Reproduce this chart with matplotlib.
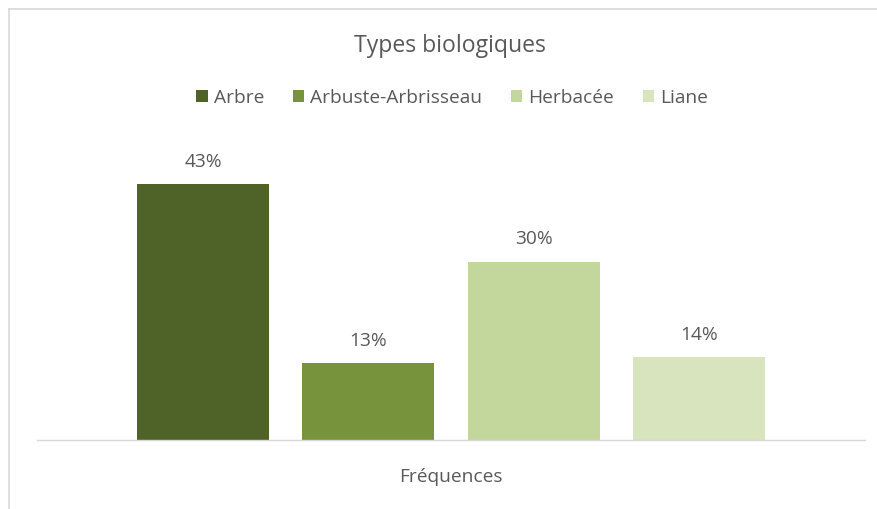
import matplotlib.pyplot as plt
from matplotlib.patches import Patch
from matplotlib.lines import Line2D

# chart data
series = ['Arbre', 'Arbuste-Arbrisseau', 'Herbacée', 'Liane']
values = [43, 13, 30, 14]
colors = ['#4F6228', '#77933C', '#C3D69B', '#D7E4BD']
title = 'Types biologiques'
category = 'Fréquences'

W, H = 877, 509
plt.rcParams['font.family'] = ['Open Sans', 'DejaVu Sans']
text_col = '#595959'
fs = 13.8

fig = plt.figure(figsize=(W / 100, H / 100), dpi=100)
fig.patch.set_facecolor('white')

# axes placed in pixel terms: baseline at y=440, x from 37 to 865
left, right, base, top = 37, 865, 440, 142.5
ax = fig.add_axes([left / W, 1 - base / H, (right - left) / W, (base - top) / H])

pos = range(len(values))
bars = ax.bar(pos, values, width=0.8, color=colors, edgecolor='none', zorder=2)
for b, v in zip(bars, values):
    ax.text(b.get_x() + b.get_width() / 2, v + 2.2, f'{v}%', ha='center', va='bottom',
            fontsize=fs, color=text_col)

ax.set_xlim(-1.005, 4.005)
ax.set_ylim(0, 50)
for s in ['top', 'right', 'left']:
    ax.spines[s].set_visible(False)
ax.spines['bottom'].set_color('#D9D9D9')
ax.spines['bottom'].set_linewidth(1.0)
ax.set_xticks([])
ax.set_yticks([])
ax.set_xlabel(category, fontsize=fs, color=text_col, labelpad=20)

fig.text(450 / W, 1 - 46 / H, title, ha='center', va='center', fontsize=16.6, color=text_col)

handles = [Patch(facecolor=c, edgecolor='none', label=s) for s, c in zip(series, colors)]
fig.legend(handles=handles, loc='center', bbox_to_anchor=(452 / W, 1 - 98 / H), ncol=4,
           frameon=False, fontsize=fs, labelcolor=text_col, handlelength=0.6,
           handleheight=0.6, handletextpad=0.3, columnspacing=1.5)

# light chart border on the left and top
fig.add_artist(Line2D([9 / W, 9 / W], [0, 1 - 9 / H], color='#D9D9D9', lw=1.2))
fig.add_artist(Line2D([9 / W, 1], [1 - 9 / H, 1 - 9 / H], color='#D9D9D9', lw=1.2))

fig.savefig('out.png', dpi=100)
